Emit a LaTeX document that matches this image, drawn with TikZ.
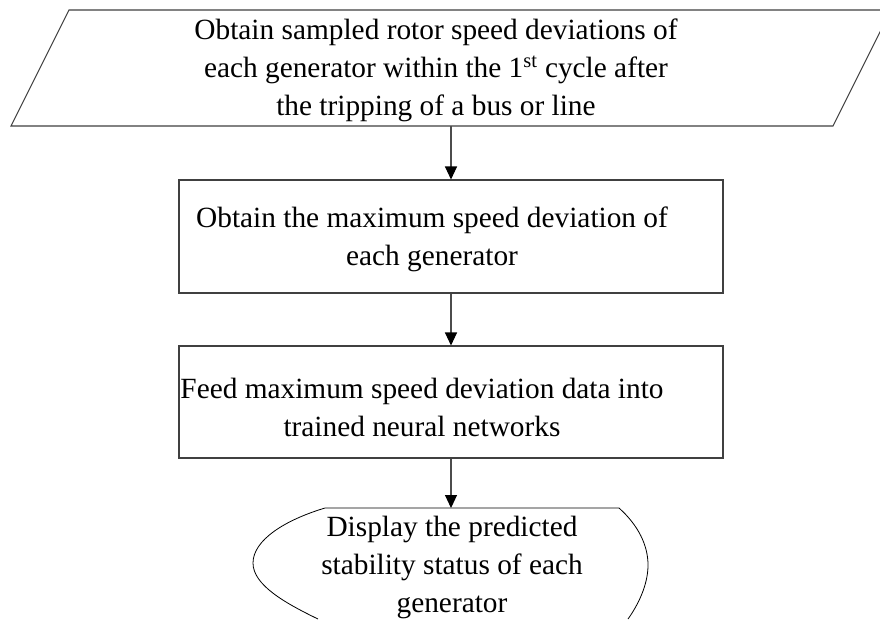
\documentclass[tikz,border=0pt]{standalone}
\usepackage{fontspec}
\setmainfont{Liberation Serif}
\usetikzlibrary{arrows.meta,positioning}
\tikzset{
	kasten/.style={draw=black!75, line width=0.8pt, minimum width=408pt, minimum height=84.75pt, inner sep=0},
	schrift/.style={align=center, font=\fontsize{22}{28.5}\selectfont, inner sep=0},
	pfeil/.style={draw=black!70, line width=0.8pt, -{Triangle[length=9.75pt,width=9pt,color=black]}}
}
\begin{document}
\begin{tikzpicture}[x=0.75pt,y=-0.75pt]
	\path[use as bounding box, fill=white] (0,0) rectangle (880,619);
	\draw[black!75, line width=0.8pt] (11,126) -- (69,10) -- (891,10) -- (833,126) -- cycle;
	\node[schrift] (eingabe) at (436,70) {Obtain sampled rotor speed deviations of\\each generator within the 1\textsuperscript{st} cycle after\\the tripping of a bus or line};
	\coordinate (eingabeS) at (451,126);
	\node[kasten] (maxabw) at (451,236.5) {};
	\node[schrift] (maxabwT) at (432,239) {Obtain the maximum speed deviation of\\each generator};
	\node[kasten, minimum height=84pt] (netz) at (451,402) {};
	\node[schrift] (netzT) at (422,407) {Feed maximum speed deviation data into\\trained neural networks};
	\draw[black, line width=0.6pt] (318,619) .. controls (285,603) and (253,585) .. (253,563) .. controls (253,540) and (285,520) .. (325,508) -- (619,508) .. controls (638,525) and (648,545) .. (648,565) .. controls (648,585) and (638,605) .. (628,619);
	\node[schrift] (anzeige) at (452,567) {Display the predicted\\stability status of each\\generator};
	\coordinate (anzeigeN) at (451,508);
	\draw[pfeil] (eingabeS) -- (maxabw.north);
	\draw[pfeil] (maxabw.south) -- (netz.north);
	\draw[pfeil] (netz.south) -- (anzeigeN);
\end{tikzpicture}
\end{document}
